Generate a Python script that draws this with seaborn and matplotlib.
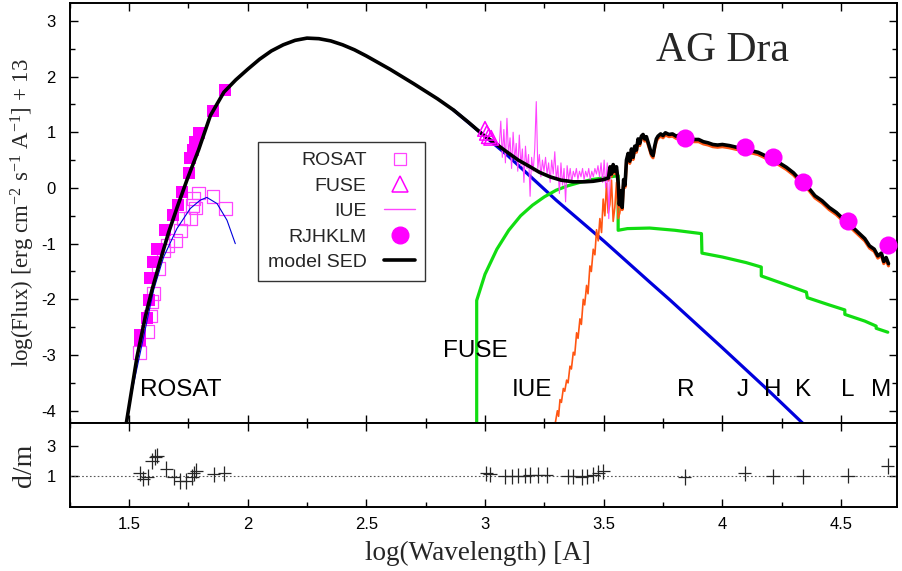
import numpy as np
import matplotlib
matplotlib.use("Agg")
import matplotlib.pyplot as plt
from matplotlib.lines import Line2D
from matplotlib.ticker import MultipleLocator, FormatStrFormatter
import seaborn as sns

# ---- data (log wavelength [A], log flux + 13) ----
rosat_x = [1.545, 1.579, 1.590, 1.597, 1.604, 1.625, 1.646, 1.663, 1.695, 1.716,
           1.730, 1.758, 1.766, 1.779, 1.772, 1.793, 1.854, 1.906]
rosat_y = [-2.96, -2.58, -2.30, -2.04, -1.89, -1.45, -1.12, -1.03, -0.94, -0.76,
           -0.55, -0.55, -0.31, -0.36, -0.19, -0.09, -0.16, -0.37]

rosat_dered_x = [1.545, 1.548, 1.576, 1.583, 1.590, 1.601, 1.618, 1.650, 1.686, 1.705,
                 1.723, 1.755, 1.758, 1.770, 1.779, 1.793, 1.854, 1.906]
rosat_dered_y = [-2.73, -2.64, -2.34, -2.01, -1.62, -1.33, -1.09, -0.76, -0.49, -0.31,
                 -0.07, 0.26, 0.53, 0.68, 0.83, 0.98, 1.38, 1.756]

rosat_fit_x = [1.490, 1.562, 1.604, 1.646, 1.702, 1.758, 1.800, 1.828, 1.871, 1.913, 1.948]
rosat_fit_y = [-4.11, -2.67, -1.83, -1.24, -0.73, -0.37, -0.22, -0.17, -0.28, -0.58, -1.00]

fuse_x = [3.000, 3.008, 3.016, 3.026]
fuse_y = [1.06, 0.99, 0.93, 0.90]

iue_y = [0.75, 1.20, 0.55, 1.05, 0.45, 1.25, 0.60, 0.90, 0.35, 1.00,
         0.50, 0.80, 0.30, 0.95, 0.40, 0.70, 0.10, 0.75, 0.35, 0.60,
         -0.15, 0.55, 0.30, 0.70, 1.55, 0.35, 0.60, 0.20, 0.50, 0.30,
         0.55, 0.25, 0.45, 0.10, 0.50, 0.25, 0.65, 0.15, 0.40, -0.10,
         0.45, 0.05, 0.35, -0.25, 0.40, 0.15, 0.35, 0.10, 0.30, 0.20,
         0.35, 0.15, 0.30, 0.20, 0.35, 0.15, 0.30, 0.20, 0.35, 0.15,
         0.30, 0.20, 0.35, 0.25, 0.40, 0.20, 0.45, 0.10, 0.50, 0.00,
         0.45, -0.55, 0.30]
iue_x = np.linspace(3.06, 3.528, len(iue_y))

rjhklm_x = [3.842, 4.094, 4.213, 4.340, 4.529, 4.697]
rjhklm_y = [0.89, 0.74, 0.55, 0.11, -0.59, -1.03]
band_names = ["R", "J", "H", "K", "L", "M"]
band_label_x = [3.846, 4.086, 4.213, 4.339, 4.528, 4.671]

# model SED: smooth hot part + red giant spectrum
sed_x = [1.489, 1.534, 1.569, 1.597, 1.632, 1.667, 1.702, 1.744, 1.793, 1.843,
         1.900, 1.950, 2.000, 2.050, 2.100, 2.150, 2.200, 2.250, 2.300, 2.350,
         2.400, 2.450, 2.500, 2.600, 2.700, 2.800, 2.867, 2.930, 2.993, 3.050,
         3.091, 3.140, 3.190, 3.230, 3.274, 3.320, 3.372, 3.420, 3.456, 3.500,
         3.520, 3.527, 3.533, 3.540, 3.547, 3.554, 3.561, 3.566, 3.572, 3.578,
         3.584, 3.590, 3.596, 3.603, 3.610, 3.617, 3.624, 3.631, 3.638, 3.645,
         3.652, 3.659, 3.666, 3.673, 3.680, 3.687, 3.694, 3.701, 3.708, 3.715,
         3.722, 3.729, 3.740, 3.750, 3.760, 3.775, 3.790, 3.805, 3.820, 3.840,
         3.860, 3.880, 3.900, 3.920, 3.940, 3.960, 3.980, 4.000, 4.030, 4.060,
         4.090, 4.120, 4.150, 4.180, 4.210, 4.240, 4.270, 4.300, 4.330, 4.360,
         4.390, 4.420, 4.450, 4.480, 4.510, 4.540, 4.570, 4.600, 4.620, 4.640,
         4.655, 4.670, 4.680, 4.690, 4.700]
sed_y = [-4.22, -3.03, -2.31, -1.83, -1.30, -0.80, -0.36, 0.14, 0.68, 1.30,
         1.72, 1.94, 2.13, 2.31, 2.46, 2.57, 2.65, 2.69, 2.68, 2.64,
         2.57, 2.48, 2.37, 2.13, 1.87, 1.60, 1.40, 1.18, 0.95, 0.78,
         0.65, 0.50, 0.38, 0.28, 0.20, 0.14, 0.11, 0.11, 0.12, 0.15,
         0.18, 0.38, 0.25, 0.42, 0.30, 0.38, 0.10, -0.30, -0.05, -0.35,
         0.15, 0.05, 0.50, 0.62, 0.48, 0.70, 0.55, 0.75, 0.68, 0.88,
         0.80, 0.93, 0.96, 0.88, 0.92, 0.82, 0.72, 0.62, 0.58, 0.75,
         0.88, 0.93, 0.97, 0.94, 0.99, 0.96, 0.97, 0.93, 0.95, 0.90,
         0.92, 0.87, 0.87, 0.83, 0.81, 0.78, 0.77, 0.78, 0.76, 0.73,
         0.72, 0.67, 0.64, 0.58, 0.53, 0.45, 0.37, 0.27, 0.13, 0.02,
         -0.14, -0.23, -0.35, -0.44, -0.56, -0.67, -0.79, -0.91, -1.04, -1.10,
         -1.22, -1.17, -1.32, -1.25, -1.36]

# hot component (visible below the SED)
hot_x = [2.867, 2.993, 3.091, 3.147, 3.300, 3.500, 3.694, 3.779, 4.000, 4.200, 4.340]
hot_y = [1.40, 0.95, 0.60, 0.38, -0.22, -0.95, -1.69, -2.01, -2.87, -3.66, -4.23]

# nebular continuum with recombination jumps
neb_x = [2.965, 2.965, 3.000, 3.050, 3.100, 3.150, 3.200, 3.250, 3.300, 3.350,
         3.400, 3.450, 3.500, 3.561, 3.561, 3.600, 3.694, 3.800, 3.912, 3.914,
         4.000, 4.100, 4.164, 4.164, 4.250, 4.354, 4.358, 4.450, 4.516, 4.516,
         4.600, 4.648, 4.648, 4.697]
neb_y = [-4.25, -2.02, -1.55, -1.10, -0.76, -0.50, -0.31, -0.16, -0.04, 0.04,
         0.10, 0.15, 0.18, 0.22, -0.76, -0.73, -0.72, -0.76, -0.82, -1.17,
         -1.24, -1.34, -1.42, -1.58, -1.71, -1.87, -1.97, -2.10, -2.19, -2.27,
         -2.39, -2.48, -2.52, -2.59]

# red giant spectrum, rising part below the SED
giant_x = [3.295, 3.305, 3.310, 3.316, 3.322, 3.330, 3.336, 3.344, 3.350, 3.358,
           3.364, 3.372, 3.378, 3.386, 3.392, 3.400, 3.406, 3.414, 3.420, 3.428,
           3.434, 3.442, 3.448, 3.456, 3.463, 3.470, 3.477, 3.484, 3.491, 3.498,
           3.505, 3.512, 3.519, 3.526, 3.533, 3.540, 3.547, 3.554, 3.561, 3.568,
           3.575, 3.582, 3.589, 3.596, 3.603]
giant_y = [-4.25, -4.00, -4.10, -3.80, -3.85, -3.60, -3.65, -3.45, -3.50, -3.20,
           -3.25, -2.95, -3.00, -2.60, -2.70, -2.35, -2.45, -2.00, -2.10, -1.75,
           -1.90, -1.40, -1.50, -1.10, -1.20, -0.75, -0.95, -0.55, -0.80, -0.20,
           -0.50, 0.08, -0.45, -0.30, 0.14, -0.60, -0.35, 0.10, -0.55, -0.45,
           -0.20, 0.10, 0.05, 0.45, 0.62]

# data / model residuals
res_x = [1.545, 1.560, 1.579, 1.597, 1.611, 1.618, 1.657, 1.688, 1.716, 1.741,
         1.766, 1.772, 1.784, 1.857, 1.902,
         3.006, 3.021, 3.084, 3.112, 3.140, 3.168, 3.190, 3.224, 3.260, 3.350,
         3.372, 3.407, 3.428, 3.456, 3.477, 3.498,
         3.842, 4.094, 4.213, 4.340, 4.529, 4.697]
res_y = [1.20, 0.85, 0.97, 2.02, 2.28, 2.35, 1.48, 0.97, 0.71, 0.71,
         0.97, 1.20, 1.37, 1.15, 1.20,
         1.20, 1.15, 1.00, 1.00, 1.04, 1.04, 1.09, 1.10, 1.10, 1.00,
         1.00, 0.97, 1.00, 1.10, 1.22, 1.33,
         0.97, 1.20, 1.00, 1.00, 1.04, 1.69]
res_xerr = 0.028
res_yerr = 0.5

# ---- style ----
sns.set_theme(style="ticks")
plt.rcParams["font.family"] = ["Liberation Sans", "DejaVu Sans"]
plt.rcParams["axes.unicode_minus"] = False
plt.rcParams["mathtext.fontset"] = "custom"
plt.rcParams["mathtext.rm"] = "Liberation Serif"
plt.rcParams["mathtext.it"] = "Liberation Serif:italic"

MAG = "#ff00ff"
MAG_LIGHT = "#ff44ff"
GREEN = "#11dd11"
BLUE = "#0000dd"
ORANGE = "#ff5512"
SERIF = ["Liberation Serif", "DejaVu Serif"]

fig = plt.figure(figsize=(9.02, 5.71), dpi=100)
ax = fig.add_axes([0.0772, 0.2592, 0.9173, 0.7355])
axr = fig.add_axes([0.0772, 0.1121, 0.9173, 0.1471], sharex=ax)

# components
sns.lineplot(x=hot_x, y=hot_y, ax=ax, color=BLUE, lw=2.3, sort=False, estimator=None, zorder=2)
sns.lineplot(x=neb_x, y=neb_y, ax=ax, color=GREEN, lw=2.3, sort=False, estimator=None, zorder=2)
sns.lineplot(x=giant_x, y=giant_y, ax=ax, color=ORANGE, lw=1.2, sort=False, estimator=None, zorder=2)
sns.lineplot(x=sed_x[40:], y=[v - 0.04 for v in sed_y[40:]], ax=ax, color=ORANGE,
             lw=2.2, sort=False, estimator=None, zorder=2)
sns.lineplot(x=iue_x, y=iue_y, ax=ax, color=MAG_LIGHT, lw=0.8, sort=False, estimator=None, zorder=3)

# ROSAT
ax.scatter(rosat_x, rosat_y, marker="s", s=85, facecolors="none", edgecolors=MAG_LIGHT,
           linewidths=0.9, zorder=3)
ax.scatter(rosat_dered_x, rosat_dered_y, marker="s", s=85, color=MAG, linewidths=0, zorder=3)
sns.lineplot(x=rosat_fit_x, y=rosat_fit_y, ax=ax, color=BLUE, lw=0.8, sort=False,
             estimator=None, zorder=4)

# model SED
sns.lineplot(x=sed_x, y=sed_y, ax=ax, color="black", lw=2.6, sort=False, estimator=None, zorder=5)

ax.scatter(fuse_x, fuse_y, marker="^", s=110, facecolors="none", edgecolors=MAG,
           linewidths=1.1, zorder=6)
ax.scatter(rjhklm_x, rjhklm_y, marker="o", s=170, color=MAG, linewidths=0, zorder=6)

# labels inside
txt_kw = dict(fontsize=17.5, ha="center", va="center", color="black")
ax.text(1.717, -3.63, "ROSAT", **txt_kw)
ax.text(2.958, -2.93, "FUSE", **txt_kw)
ax.text(3.198, -3.63, "IUE", **txt_kw)
for name, bx in zip(band_names, band_label_x):
    ax.text(bx, -3.63, name, **txt_kw)
ax.text(4.0, 2.47, "AG Dra", fontsize=30, family=SERIF, ha="center", va="center")

# legend
handles = [
    Line2D([], [], ls="none", marker="s", ms=8, mfc="none", mec=MAG_LIGHT, mew=0.9),
    Line2D([], [], ls="none", marker="^", ms=11, mfc="none", mec=MAG, mew=1.1),
    Line2D([], [], color=MAG_LIGHT, lw=1.0),
    Line2D([], [], ls="none", marker="o", ms=12, color=MAG),
    Line2D([], [], color="black", lw=2.6),
]
leg = ax.legend(handles, ["ROSAT", "FUSE", "IUE", "RJHKLM", "model SED"],
                loc="upper left", bbox_to_anchor=(0.2277, 0.669), markerfirst=False,
                fontsize=14, frameon=True, fancybox=False, edgecolor="black",
                handlelength=1.6, handletextpad=0.9, labelspacing=0.4,
                borderpad=0.5, borderaxespad=0)
leg.get_frame().set_linewidth(1.0)

# residuals
axr.axhline(1, color="0.35", lw=0.8, ls=(0, (1.5, 2)), zorder=1)
axr.errorbar(res_x, res_y, xerr=res_xerr, yerr=res_yerr, fmt="none", ecolor="0.15",
             elinewidth=0.9, capsize=0, zorder=2)

# axes
for a in (ax, axr):
    for sp in a.spines.values():
        sp.set_linewidth(1.4)
        sp.set_color("black")
    a.tick_params(which="both", direction="in", top=True, right=True, colors="black",
                  labelsize=12, width=1.0)
    a.tick_params(which="major", length=6)
    a.tick_params(which="minor", length=3.5)
    a.tick_params(axis="y", pad=10)
    a.tick_params(axis="x", pad=7)

ax.set_xlim(1.25, 4.736)
ax.set_ylim(-4.22, 3.32)
ax.xaxis.set_major_locator(MultipleLocator(0.5))
ax.xaxis.set_minor_locator(MultipleLocator(0.25))
ax.yaxis.set_major_locator(MultipleLocator(1))
ax.yaxis.set_minor_locator(MultipleLocator(0.5))
ax.yaxis.set_major_formatter(FormatStrFormatter("%g"))
ax.tick_params(axis="x", labelbottom=False)

axr.set_ylim(-1.0, 4.5)
axr.set_yticks([1, 3])
axr.yaxis.set_minor_locator(plt.NullLocator())
axr.xaxis.set_major_formatter(FormatStrFormatter("%g"))

ax.set_ylabel(r"log(Flux) [erg cm$^{-2}$ s$^{-1}$ A$^{-1}$] + 13", family=SERIF, fontsize=16.5)
ax.yaxis.set_label_coords(-0.04, 0.5)
axr.set_ylabel("d/m", family=SERIF, fontsize=20)
axr.yaxis.set_label_coords(-0.04, 0.5)
axr.set_xlabel("log(Wavelength) [A]", family=SERIF, fontsize=19.5)
axr.xaxis.set_label_coords(0.494, -0.40)

fig.savefig("out.png", dpi=100)
